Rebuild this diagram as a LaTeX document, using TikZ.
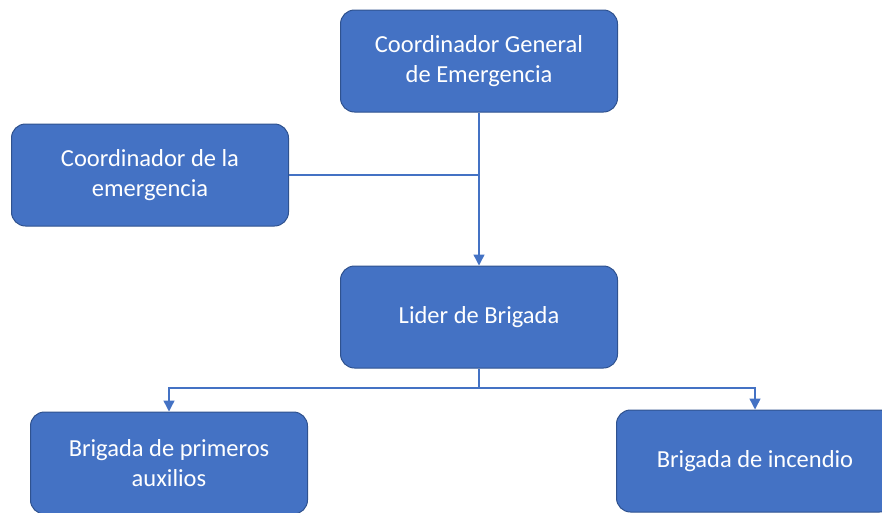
\documentclass[tikz,border=0pt]{standalone}
\usepackage{fontspec}
\setmainfont{Carlito}
\usetikzlibrary{arrows.meta}
\definecolor{boxfill}{HTML}{4472C4}
\definecolor{boxline}{HTML}{2F528F}
\definecolor{conn}{HTML}{4472C4}
\tikzset{
  orgbox/.style={draw=boxline, line width=1pt, fill=boxfill, rounded corners=14pt,
    minimum width=277pt, minimum height=102pt, text=white, align=center,
    font=\fontsize{24.5}{30}\selectfont, inner sep=2pt},
  link/.style={draw=conn, line width=1.4pt},
  arr/.style={link, -{Triangle[width=11pt,length=11pt]}}
}
\begin{document}
\begin{tikzpicture}[x=1pt,y=-1pt]
\useasboundingbox (0,0) rectangle (882,512);
\clip (0,0) rectangle (882,512);
\node[orgbox] (top) at (479,61) {Coordinador General\\de Emergencia};
\node[orgbox] (left) at (150,175) {Coordinador de la\\emergencia};
\node[orgbox] (mid) at (479,317) {Lider de Brigada};
\node[orgbox] (bl) at (169,463) {Brigada de primeros\\auxilios};
\node[orgbox] (br) at (755,461) {Brigada de incendio};
\coordinate (j) at (479,388);
\draw[arr] (top.south) -- (mid.north);
\draw[link] (left.east) -- (left.east -| top.south);
\draw[link] (mid.south) -- (j);
\draw[arr] (j) -| (bl.north);
\draw[arr] (j) -| (br.north);
\end{tikzpicture}
\end{document}
